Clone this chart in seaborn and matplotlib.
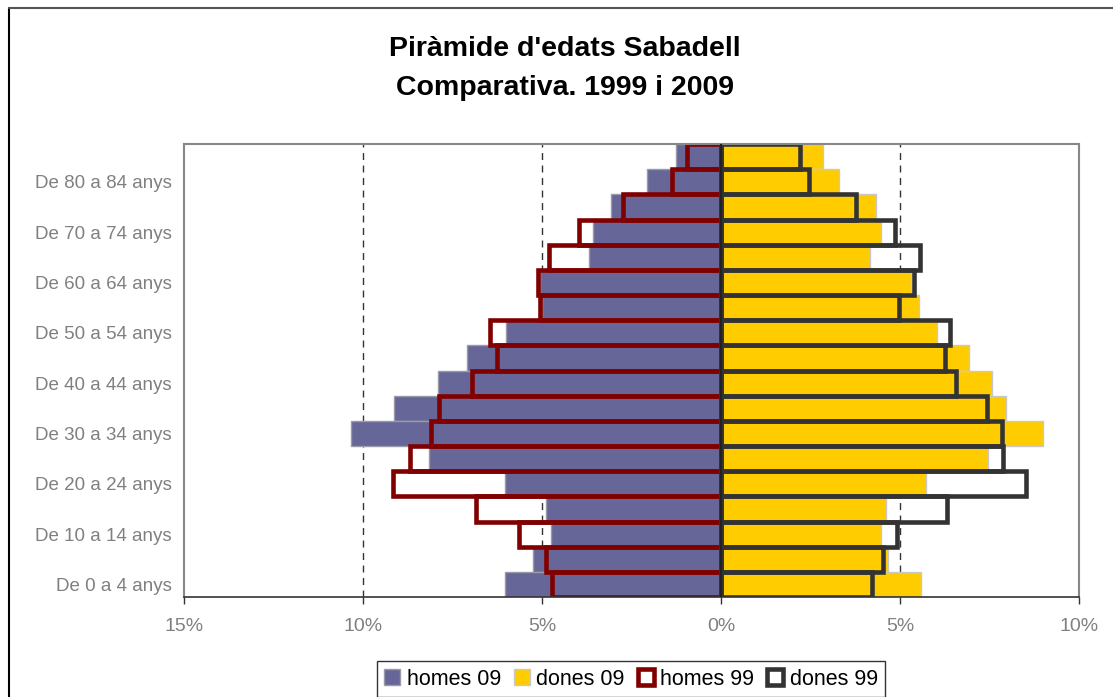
#%% Packages
import numpy as np
import pandas as pd
import matplotlib
matplotlib.use('Agg')
import matplotlib.pyplot as plt
from matplotlib.lines import Line2D
import seaborn as sns

#%% Data (percentatges, de 0-4 anys fins a 85 i més)
edats = ['De 0 a 4 anys', 'De 5 a 9 anys', 'De 10 a 14 anys', 'De 15 a 19 anys',
         'De 20 a 24 anys', 'De 25 a 29 anys', 'De 30 a 34 anys', 'De 35 a 39 anys',
         'De 40 a 44 anys', 'De 45 a 49 anys', 'De 50 a 54 anys', 'De 55 a 59 anys',
         'De 60 a 64 anys', 'De 65 a 69 anys', 'De 70 a 74 anys', 'De 75 a 79 anys',
         'De 80 a 84 anys', 'De 85 anys i més']
homes_09 = [6.03, 5.25, 4.75, 4.89, 6.03, 8.16, 10.33, 9.13, 7.90, 7.10, 6.00, 5.00,
            5.05, 3.69, 3.58, 3.07, 2.07, 1.26]
dones_09 = [5.60, 4.67, 4.47, 4.60, 5.73, 7.46, 9.00, 7.96, 7.57, 6.93, 6.03, 5.52,
            5.31, 4.16, 4.47, 4.33, 3.30, 2.85]
homes_99 = [4.72, 4.89, 5.64, 6.84, 9.16, 8.70, 8.10, 7.87, 6.95, 6.26, 6.45, 5.05,
            5.10, 4.80, 3.97, 2.74, 1.37, 0.95]
dones_99 = [4.22, 4.52, 4.92, 6.31, 8.52, 7.88, 7.85, 7.43, 6.56, 6.26, 6.40, 4.97,
            5.39, 5.56, 4.86, 3.77, 2.46, 2.20]
xticks = [-15, -10, -5, 0, 5, 10]
xtick_labels = ['15%', '10%', '5%', '0%', '5%', '10%']

df = pd.DataFrame({'edat': edats,
                   'homes09': -np.array(homes_09), 'dones09': dones_09,
                   'homes99': -np.array(homes_99), 'dones99': dones_99})
ordre = edats[::-1]

#%% Style
sns.set_style('white')
plt.rcParams['font.family'] = ['Liberation Sans', 'DejaVu Sans']
plt.rcParams['text.color'] = 'black'

fig = plt.figure(figsize=(11.13, 6.97), dpi=100)
ax = fig.add_axes([184/1113, 1 - 597/697, (1079 - 184)/1113, (597 - 144)/697])

# dashed grid behind the bars
for xv in [-10, -5, 5]:
    ax.axvline(xv, color='#333333', lw=1.0, ls=(0, (5, 4)), zorder=0.5)

#%% Bars
sns.barplot(data=df, x='homes09', y='edat', order=ordre, orient='h', width=1.0,
            color='#666699', saturation=1, edgecolor='#9a9aa8', linewidth=1,
            label='homes 09', ax=ax)
sns.barplot(data=df, x='dones09', y='edat', order=ordre, orient='h', width=1.0,
            color='#FFCC00', saturation=1, edgecolor='#c8c8c8', linewidth=1,
            label='dones 09', ax=ax)
sns.barplot(data=df, x='homes99', y='edat', order=ordre, orient='h', width=1.0,
            color='#800000', saturation=1, fill=False, linewidth=3.3,
            label='homes 99', ax=ax)
sns.barplot(data=df, x='dones99', y='edat', order=ordre, orient='h', width=1.0,
            color='#333333', saturation=1, fill=False, linewidth=3.3,
            label='dones 99', ax=ax)

ax.axvline(0, color='#222222', lw=1.5, zorder=5)

#%% Axes
ax.set_xlim(-15, 10)
ax.set_ylim(len(edats) - 0.5, -0.5)
ax.set_xticks(xticks)
ax.set_xticklabels(xtick_labels)
ax.set_yticks(range(len(ordre)))
ax.set_yticklabels([e if (len(ordre) - 1 - i) % 2 == 0 and i > 0 else ''
                    for i, e in enumerate(ordre)])
ax.set_xlabel('')
ax.set_ylabel('')
ax.tick_params(axis='x', direction='out', length=5, width=1, color='#333333',
               labelsize=14, labelcolor='#808080', pad=10, bottom=True)
ax.tick_params(axis='y', length=0, labelsize=13.5, labelcolor='#808080', pad=9)
for side in ['top', 'right', 'left']:
    ax.spines[side].set_visible(True)
    ax.spines[side].set_color('#888888')
    ax.spines[side].set_linewidth(1.5)
ax.spines['bottom'].set_color('#333333')
ax.spines['bottom'].set_linewidth(1.2)

#%% Title
fig.text(565/1113, 1 - 49/697, "Piràmide d'edats Sabadell", ha='center', va='center',
         fontsize=20.5, fontweight='bold', color='black')
fig.text(565/1113, 1 - 88/697, "Comparativa. 1999 i 2009", ha='center', va='center',
         fontsize=20.5, fontweight='bold', color='black')

#%% Legend
leg = ax.legend(loc='upper center', bbox_to_anchor=(631/1113, 1 - 661/697),
                bbox_transform=fig.transFigure, ncol=4, fontsize=15.5, frameon=True,
                fancybox=False, edgecolor='black', handlelength=0.75, handleheight=0.75,
                handletextpad=0.3, columnspacing=0.6, borderpad=0.35, borderaxespad=0)
leg.get_frame().set_linewidth(1.0)
for t in leg.get_texts():
    t.set_color('black')

#%% Outer frame of the chart
fig.add_artist(Line2D([9/1113, 9/1113], [0, 1 - 8/697], transform=fig.transFigure,
                      color='black', lw=1.5))
fig.add_artist(Line2D([9/1113, 1], [1 - 8/697, 1 - 8/697], transform=fig.transFigure,
                      color='#555555', lw=1.5))

fig.savefig('out.png', dpi=100)
